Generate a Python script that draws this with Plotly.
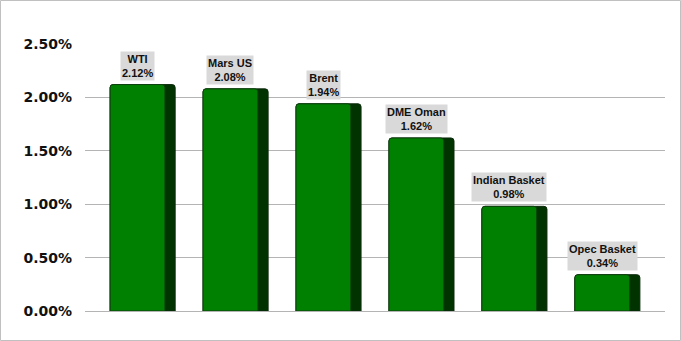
import plotly.graph_objects as go

categories = ["WTI", "Mars US", "Brent", "DME Oman", "Indian Basket", "Opec Basket"]
values = [2.12, 2.08, 1.94, 1.62, 0.98, 0.34]
tick_vals = [0, 0.5, 1.0, 1.5, 2.0, 2.5]
tick_text = ["0.00%", "0.50%", "1.00%", "1.50%", "2.00%", "2.50%"]

W, H = 681, 341
ml, mr, mt, mb = 85, 16, 44, 30
pw, ph = W - ml - mr, H - mt - mb

xs = list(range(len(categories)))
side_w = 0.70
face_w = 0.59

fig = go.Figure()
fig.add_trace(go.Bar(x=xs, y=values, width=side_w, offset=-side_w / 2,
                     marker=dict(color="#013301", line=dict(color="#0d2a0d", width=1),
                                 cornerradius=3),
                     hoverinfo="skip", showlegend=False))
fig.add_trace(go.Bar(x=xs, y=values, width=face_w, offset=-side_w / 2,
                     marker=dict(color="#008000", line=dict(color="#0f3f0f", width=1),
                                 cornerradius=3),
                     showlegend=False))

for i, (c, v) in enumerate(zip(categories, values)):
    fig.add_annotation(x=i - side_w / 2 + face_w / 2, y=v, xref="x", yref="y",
                       text=f"<b>{c}<br>{v:.2f}%</b>", showarrow=False,
                       yanchor="bottom", yshift=4,
                       font=dict(family="Liberation Sans, Arial", size=11, color="#111111"),
                       bgcolor="#d9d9d9", borderpad=1, align="center")

fig.add_shape(type="rect", xref="paper", yref="paper",
              x0=(-ml + 0.5) / pw, x1=(W - ml - 0.5) / pw,
              y0=(-mb + 0.5) / ph, y1=(H - mb - 0.5) / ph,
              line=dict(color="#c0c0c0", width=1), layer="below")

fig.update_layout(
    width=W, height=H,
    margin=dict(l=ml, r=mr, t=mt, b=mb),
    paper_bgcolor="white", plot_bgcolor="white",
    barmode="overlay",
    xaxis=dict(range=[-0.62, 5.62], showticklabels=False, showgrid=False,
               zeroline=False, showline=False, ticks=""),
    yaxis=dict(range=[0, 2.5], tickvals=tick_vals, ticktext=tick_text,
               showgrid=True, gridcolor="#b4b4b4", gridwidth=1,
               zeroline=True, zerolinecolor="#b4b4b4", zerolinewidth=1,
               showline=False, ticks="", ticklabelstandoff=12,
               tickfont=dict(family="DejaVu Sans", size=14, color="#111111", weight="bold")),
)

fig.write_html("out.html")
